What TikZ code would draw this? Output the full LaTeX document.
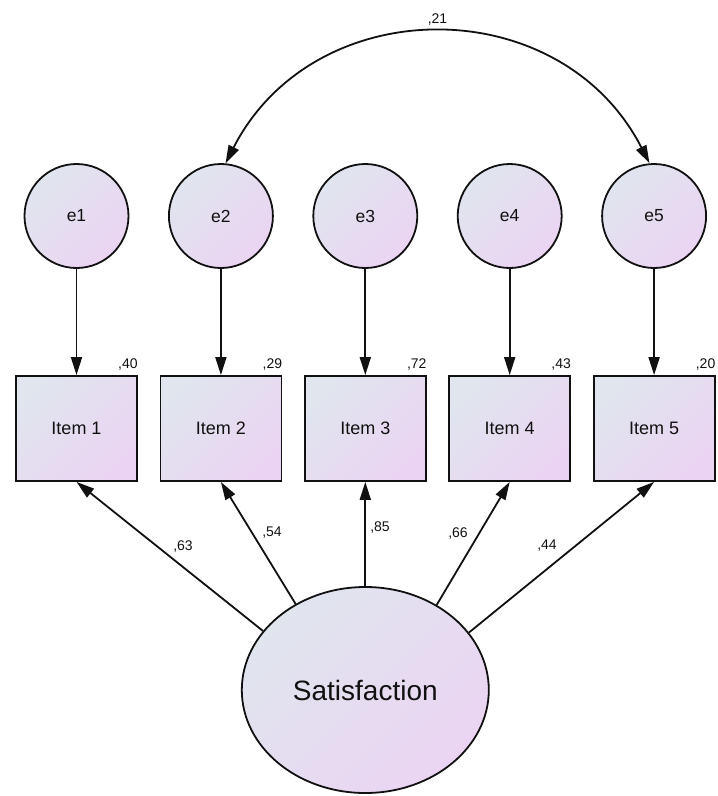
\documentclass[tikz,border=0pt]{standalone}
\usepackage{fontspec}
\setmainfont{Liberation Sans}
\usetikzlibrary{arrows.meta,shapes.geometric}

\definecolor{fillA}{RGB}{224,229,238}
\definecolor{fillB}{RGB}{235,212,243}
\definecolor{ink}{RGB}{17,17,17}

\tikzset{
  varfill/.style={draw=ink, line width=1.8pt, top color=fillA, bottom color=fillB, shading angle=45},
  errvar/.style={varfill, circle, minimum size=104pt, inner sep=0pt,
                 font=\fontsize{17.5}{20}\selectfont, text=ink},
  obsvar/.style={varfill, rectangle, minimum width=121pt, minimum height=105pt, inner sep=0pt,
                 font=\fontsize{18}{20}\selectfont, text=ink},
  latvar/.style={varfill, ellipse, minimum width=247pt, minimum height=206pt, inner sep=0pt,
                 font=\fontsize{28}{30}\selectfont, text=ink},
  path/.style={draw=ink, line width=1.8pt, -{Triangle[length=18pt,width=11pt]}},
  estim/.style={font=\fontsize{14}{16}\selectfont, text=ink, inner sep=0pt}
}

\begin{document}
\begin{tikzpicture}[x=1pt, y=-1pt]
  \useasboundingbox (0,0) rectangle (718,796);

  % error terms
  \node[errvar] (e1) at (76.5,216) {e1};
  \node[errvar] (e2) at (220.9,216) {e2};
  \node[errvar] (e3) at (365.3,216) {e3};
  \node[errvar] (e4) at (509.7,216) {e4};
  \node[errvar] (e5) at (654.1,216) {e5};

  % observed items
  \node[obsvar] (i1) at (76.5,428.5) {Item 1};
  \node[obsvar] (i2) at (220.9,428.5) {Item 2};
  \node[obsvar] (i3) at (365.3,428.5) {Item 3};
  \node[obsvar] (i4) at (509.7,428.5) {Item 4};
  \node[obsvar] (i5) at (654.1,428.5) {Item 5};

  % latent factor
  \node[latvar] (sat) at (365.3,690) {Satisfaction};

  % error paths
  \foreach \k in {1,...,5} {
    \draw[path] (e\k.south) -- (i\k.north);
  }

  % covariance between e2 and e5
  \draw[draw=ink, line width=1.8pt, {Triangle[length=18pt,width=11pt]}-{Triangle[length=18pt,width=11pt]}]
    (e2.85) .. controls +(88.8,-173.3) and +(-88.8,-173.3) .. (e5.95);
  \node[estim] (c25) at (437.5,20) {,21};

  % factor loadings
  \draw[path] (sat.150.6) -- (i1.south);
  \draw[path] (sat.129.9) -- (i2.south);
  \draw[path] (sat.north) -- (i3.south);
  \draw[path] (sat.50.1)  -- (i4.south);
  \draw[path] (sat.29.8)  -- (i5.south);

  \node[estim] (l1) at (183,546) {,63};
  \node[estim] (l2) at (272,533) {,54};
  \node[estim] (l3) at (380,527) {,85};
  \node[estim] (l4) at (458,533) {,66};
  \node[estim] (l5) at (547,546) {,44};

  % squared multiple correlations
  \node[estim, anchor=base east] (r1) at ([yshift=7pt]i1.north east) {,40};
  \node[estim, anchor=base east] (r2) at ([yshift=7pt]i2.north east) {,29};
  \node[estim, anchor=base east] (r3) at ([yshift=7pt]i3.north east) {,72};
  \node[estim, anchor=base east] (r4) at ([yshift=7pt]i4.north east) {,43};
  \node[estim, anchor=base east] (r5) at ([yshift=7pt]i5.north east) {,20};
\end{tikzpicture}
\end{document}
